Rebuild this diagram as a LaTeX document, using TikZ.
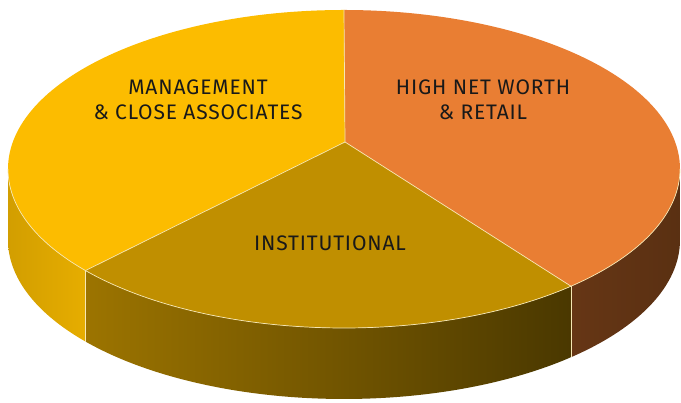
\documentclass[tikz,border=0pt]{standalone}
\usepackage{fontspec}
\setmainfont[LetterSpace=4]{Fira Sans}
\usepackage{tikz}

\definecolor{mgmttop}{HTML}{FCBC00}
\definecolor{mgmtsideA}{HTML}{D29E00}
\definecolor{mgmtsideB}{HTML}{E6AD00}
\definecolor{insttop}{HTML}{C08F00}
\definecolor{instsideA}{HTML}{9C7400}
\definecolor{instsideB}{HTML}{4A3800}
\definecolor{hnwtop}{HTML}{E97E33}
\definecolor{hnwsideA}{HTML}{663615}
\definecolor{hnwsideB}{HTML}{5A3012}
\definecolor{rimline}{HTML}{F6E7B4}

\begin{document}
\begin{tikzpicture}[x=1pt,y=1pt]
  \tikzset{slicelabel/.style = {font=\fontsize{21}{25}\selectfont,align=center,text=black!90,inner sep=0pt}}
  \tikzset{rim/.style = {draw=rimline,line width=0.7pt}}
  \def\rx{336}
  \def\ry{159}
  \def\h{71}
  \useasboundingbox (0,0) rectangle (681,403);

  \coordinate (C) at (344,234);
  \coordinate (V) at (345,261);
  \coordinate (T) at ([shift={(90:336 and 159)}]C);
  \coordinate (L) at ([shift={(219.7:336 and 159)}]C);
  \coordinate (R) at ([shift={(312.5:336 and 159)}]C);
  \coordinate (W) at ([shift={(180:336 and 159)}]C);
  \coordinate (E) at ([shift={(360:336 and 159)}]C);

  % sides
  \shade[left color=mgmtsideA,right color=mgmtsideB] (W) arc[start angle=180,end angle=219.7,x radius=\rx,y radius=\ry]
    -- ++(0,-\h) arc[start angle=219.7,end angle=180,x radius=\rx,y radius=\ry] -- cycle;
  \shade[left color=instsideA,right color=instsideB] (L) arc[start angle=219.7,end angle=312.5,x radius=\rx,y radius=\ry]
    -- ++(0,-\h) arc[start angle=312.5,end angle=219.7,x radius=\rx,y radius=\ry] -- cycle;
  \shade[left color=hnwsideA,right color=hnwsideB] (R) arc[start angle=312.5,end angle=360,x radius=\rx,y radius=\ry]
    -- ++(0,-\h) arc[start angle=360,end angle=312.5,x radius=\rx,y radius=\ry] -- cycle;

  % top
  \fill[mgmttop] (V) -- (T) arc[start angle=90,end angle=219.7,x radius=\rx,y radius=\ry] -- cycle;
  \fill[insttop] (V) -- (L) arc[start angle=219.7,end angle=312.5,x radius=\rx,y radius=\ry] -- cycle;
  \fill[hnwtop] (V) -- (R) arc[start angle=312.5,end angle=450,x radius=\rx,y radius=\ry] -- cycle;

  \draw[rim] (W) arc[start angle=180,end angle=360,x radius=\rx,y radius=\ry];
  \foreach \p in {T,L,R}
    \draw[rim] (V) -- (\p);
  \foreach \p in {L,R}
    \draw[rim] (\p) -- ++(0,-\h);

  \node[slicelabel] (mgmt) at (198,303) {MANAGEMENT\\\& CLOSE ASSOCIATES};
  \node[slicelabel] (hnw) at (483,303) {HIGH NET WORTH\\\& RETAIL};
  \node[slicelabel] (inst) at (330,160) {INSTITUTIONAL};
\end{tikzpicture}
\end{document}
